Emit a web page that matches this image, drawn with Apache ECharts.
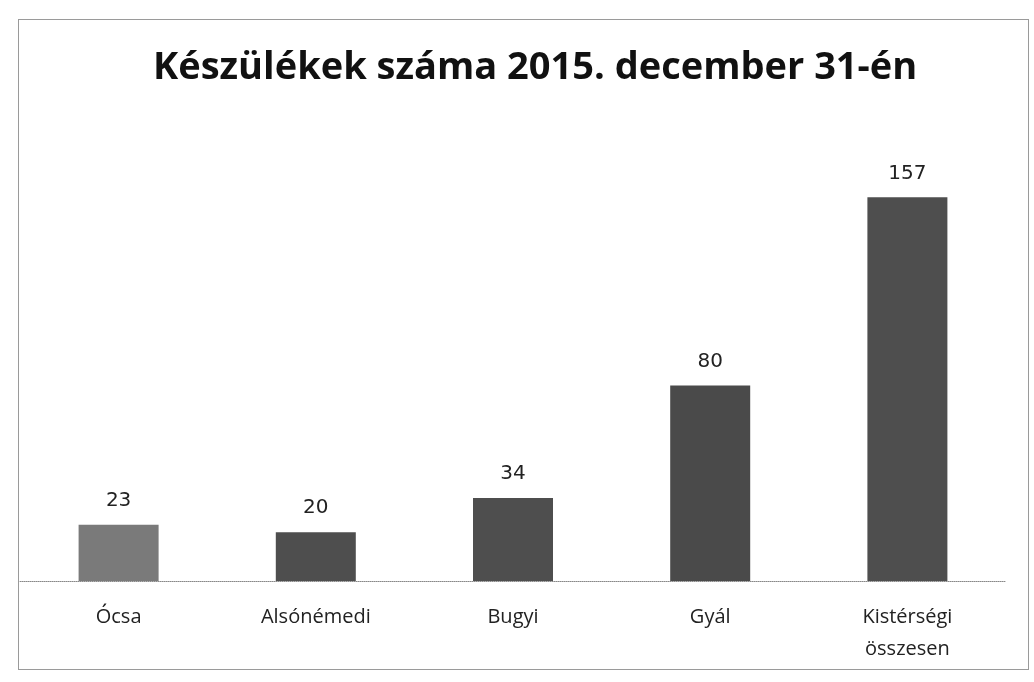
<!DOCTYPE html>
<html>
<head>
<meta charset="utf-8">
<script src="https://cdn.jsdelivr.net/npm/echarts@6/dist/echarts.min.js"></script>
<style>
html,body{margin:0;padding:0;background:#fff;}
#frame{position:absolute;left:18px;top:19px;width:1009px;height:649px;border:1px solid #9a9a9a;}
#chart{position:absolute;left:0;top:0;width:1034px;height:682px;}
</style>
</head>
<body>
<div id="frame"></div>
<div id="chart"></div>
<script>
const titleText = 'Készülékek száma 2015. december 31-én';
const categories = ['Ócsa', 'Alsónémedi', 'Bugyi', 'Gyál', 'Kistérségi\nösszesen'];
const values = [23, 20, 34, 80, 157];
const barColors = ['#7a7a7a', '#4e4e4e', '#4e4e4e', '#4a4a4a', '#4e4e4e'];

const chart = echarts.init(document.getElementById('chart'), null, {renderer: 'canvas'});
chart.setOption({
  animation: false,
  backgroundColor: 'transparent',
  title: {
    text: titleText,
    left: 148,
    top: 44,
    textStyle: {fontFamily: 'Open Sans', fontWeight: 'bold', fontSize: 38, color: '#111'}
  },
  grid: {left: 20, right: 28, top: 190, bottom: 101, containLabel: false},
  xAxis: {
    type: 'category',
    data: categories,
    axisLine: {lineStyle: {color: '#888', type: 'dotted', width: 1}},
    axisTick: {show: false},
    axisLabel: {fontFamily: 'Open Sans', fontSize: 20, color: '#222', margin: 20, lineHeight: 32}
  },
  yAxis: {
    type: 'value', min: 0, max: 160,
    show: false,
    splitLine: {show: false}
  },
  series: [{
    type: 'bar',
    data: values.map((v, i) => ({value: v, itemStyle: {color: barColors[i]}})),
    barWidth: 80,
    label: {show: true, position: 'top', distance: 14, fontFamily: 'DejaVu Sans', fontSize: 20, color: '#222'}
  }]
});
</script>
</body>
</html>
